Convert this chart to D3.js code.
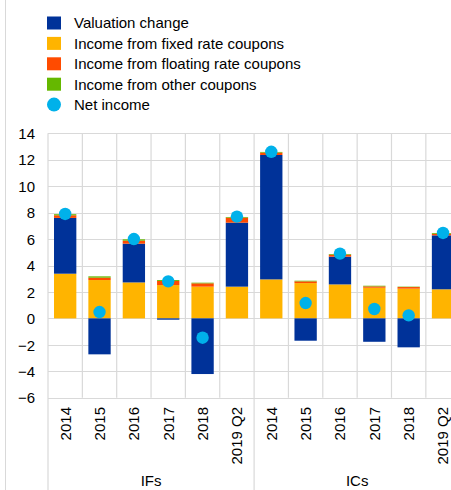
<!DOCTYPE html>
<html><head><meta charset="utf-8">
<script src="https://cdn.jsdelivr.net/npm/d3@7"></script>
<style>body{margin:0;background:#fff;}svg{display:block;font-family:"Liberation Sans",Arial,sans-serif;}</style>
</head><body>
<svg id="c" width="451" height="490"></svg>
<script>
const categories = ["2014","2015","2016","2017","2018","2019 Q2","2014","2015","2016","2017","2018","2019 Q2"];
const groups = ["IFs","ICs"];
const valuation = [4.22,-2.72,2.93,-0.1,-4.21,4.84, 9.41,-1.69,2.1,-1.77,-2.19,4.08];
const fixedRate = [3.38,2.9,2.72,2.52,2.4,2.4, 2.95,2.67,2.57,2.32,2.25,2.2];
const floatingRate = [0.2,0.18,0.23,0.31,0.25,0.38, 0.18,0.13,0.15,0.1,0.12,0.12];
const otherCoupons = [0.08,0.1,0.1,0.07,0.05,0.05, 0.05,0.05,0.05,0.05,0.03,0.06];
const netIncome = [7.9,0.48,6.0,2.8,-1.46,7.7, 12.6,1.16,4.9,0.71,0.23,6.46];
const yTicks = [-6,-4,-2,0,2,4,6,8,10,12,14];
const seriesNames = ["Valuation change","Income from fixed rate coupons","Income from floating rate coupons","Income from other coupons","Net income"];
const colors = ["#003299","#ffb400","#ff4b00","#65b800","#00b1ea"];

(function(){
const FS = 15;
const svg = d3.select("#c");
const left = 48, cellW = 34.35, plotTop = 133.3, plotBottom = 397.7;
const x = d3.scaleBand().domain(d3.range(categories.length)).range([left, left + cellW*categories.length]).paddingInner(0.35).paddingOuter(0.175);
const y = d3.scaleLinear().domain([-6,14]).range([plotBottom, plotTop]);
const right = left + cellW*categories.length;

svg.append("line").attr("x1",5.5).attr("x2",5.5).attr("y1",0).attr("y2",490).attr("stroke","#d9d9d9").attr("stroke-width",1);

svg.append("g").selectAll("line").data(yTicks).join("line")
  .attr("x1",left).attr("x2",right).attr("y1",d=>Math.round(y(d))+0.5).attr("y2",d=>Math.round(y(d))+0.5)
  .attr("stroke","#d9d9d9").attr("stroke-width",1.2);
svg.append("g").selectAll("line").data(d3.range(categories.length+1)).join("line")
  .attr("x1",i=>left+i*cellW).attr("x2",i=>left+i*cellW)
  .attr("y1",plotTop).attr("y2",i=>(i%6===0)?490:plotBottom)
  .attr("stroke","#d9d9d9").attr("stroke-width",1.2);

const yAxis = d3.axisLeft(y).tickValues(yTicks).tickSize(0).tickPadding(0);
const ya = svg.append("g").attr("transform",`translate(35,0)`).call(yAxis);
ya.select(".domain").remove();
ya.selectAll("text").attr("font-size",FS).attr("fill","#000").attr("font-family","Liberation Sans, Arial, sans-serif").attr("dy","0.35em");

const g = svg.append("g");
categories.forEach((c,i)=>{
  let pos = 0, neg = 0;
  const parts = [[fixedRate[i],1],[valuation[i],0],[floatingRate[i],2],[otherCoupons[i],3]];
  parts.forEach(([v,ci])=>{
    let y0,y1;
    if (v>=0){ y0=pos; y1=pos+v; pos=y1; } else { y0=neg; y1=neg+v; neg=y1; }
    g.append("rect").attr("x",x(i)).attr("width",x.bandwidth())
      .attr("y",y(Math.max(y0,y1))).attr("height",Math.abs(y(y0)-y(y1)))
      .attr("fill",colors[ci]);
  });
});
svg.append("g").selectAll("circle").data(netIncome).join("circle")
  .attr("cx",(d,i)=>x(i)+x.bandwidth()/2).attr("cy",d=>y(d)).attr("r",6.2).attr("fill",colors[4]);

svg.append("g").selectAll("text").data(categories).join("text")
  .attr("transform",(d,i)=>`translate(${left+(i+0.5)*cellW+5.4},407) rotate(-90)`)
  .attr("text-anchor","end").attr("font-size",FS).attr("fill","#000").text(d=>d);
svg.append("g").selectAll("text").data(groups).join("text")
  .attr("x",(d,i)=>left+(i*6+3)*cellW).attr("y",485.5).attr("text-anchor","middle")
  .attr("font-size",FS).attr("fill","#000").text(d=>d);

const lg = svg.append("g");
seriesNames.forEach((s,i)=>{
  const cy = 23 + i*20.4;
  if (i<4) lg.append("rect").attr("x",47).attr("y",cy-6.5).attr("width",14).attr("height",13).attr("fill",colors[i]);
  else lg.append("circle").attr("cx",54).attr("cy",cy).attr("r",7).attr("fill",colors[i]);
  lg.append("text").attr("x",74).attr("y",cy+5.4).attr("font-size",FS).attr("fill","#000").text(s);
});
})();
</script>
</body></html>
